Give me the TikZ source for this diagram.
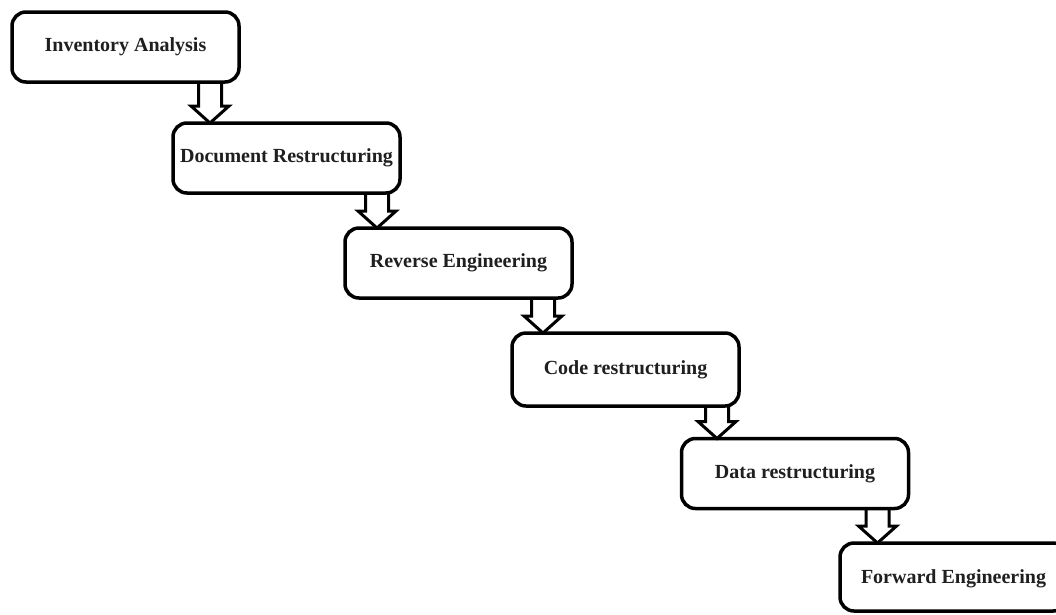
\documentclass[tikz,border=0pt]{standalone}
\usepackage{fontspec}
\setmainfont{Liberation Serif}
\usetikzlibrary{calc,backgrounds}
\tikzset{
  stage/.style={draw=black, line width=3.5pt, rounded corners=14pt, outer sep=0pt,
    minimum width=227pt, minimum height=70pt, inner sep=0pt,
    font=\fontsize{20}{22}\selectfont\bfseries, text=black!88},
  barrow/.style={draw=black, fill=white, line width=3pt, line join=miter}
}
\newcommand\blockarr[2]{%
  \draw[barrow] let \p1=(#1), \p2=(#2) in
    (\x1-11.5pt,\y1) -- (\x1-11.5pt,\y2+17pt) -- (\x1-19pt,\y2+17pt) -- (\x1,\y2)
    -- (\x1+19pt,\y2+17pt) -- (\x1+11.5pt,\y2+17pt) -- (\x1+11.5pt,\y1);}
\begin{document}
\begin{tikzpicture}[x=1pt,y=-1pt]
\clip (0,0) rectangle (1056,614);
\node[stage] (b1) at (125.5,47) {Inventory Analysis};
\node[stage] (b2) at (286.5,158) {Document Restructuring};
\node[stage] (b3) at (458.5,263) {Reverse Engineering};
\node[stage, minimum height=73pt] (b4) at (625.5,369.5) {Code restructuring};
\node[stage] (b5) at (795,473.5) {Data restructuring};
\node[stage, minimum height=68pt, text depth=-2pt] (b6) at (953.5,577) {Forward Engineering};
\coordinate (a1) at ([xshift=-29pt]b1.south east);
\coordinate (a2) at ([xshift=-23pt]b2.south east);
\coordinate (a3) at ([xshift=-29pt]b3.south east);
\coordinate (a4) at ([xshift=-22pt]b4.south east);
\coordinate (a5) at ([xshift=-31pt]b5.south east);
\coordinate (t1) at (a1 |- b2.north);
\coordinate (t2) at (a2 |- b3.north);
\coordinate (t3) at (a3 |- b4.north);
\coordinate (t4) at (a4 |- b5.north);
\coordinate (t5) at (a5 |- b6.north);
\begin{scope}[on background layer]
\fill[white] (0,0) rectangle (1056,614);
\blockarr{a1}{t1}
\blockarr{a2}{t2}
\blockarr{a3}{t3}
\blockarr{a4}{t4}
\blockarr{a5}{t5}
\end{scope}
\end{tikzpicture}
\end{document}
